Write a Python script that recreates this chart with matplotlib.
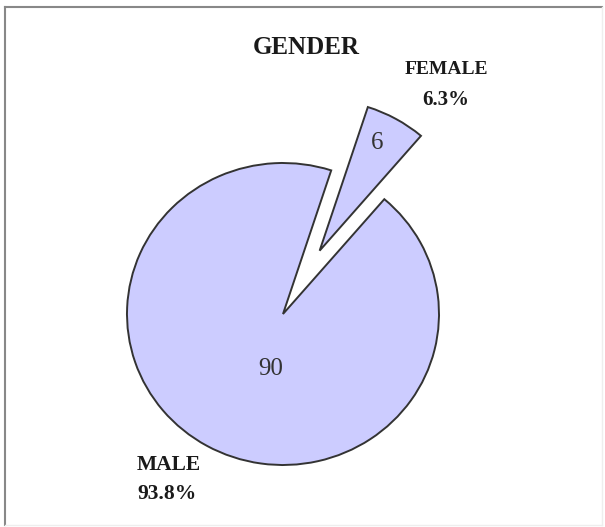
import numpy as np
import matplotlib.pyplot as plt

# data
labels = ['FEMALE', 'MALE']
counts = [6, 90]
pct_text = ['6.3%', '93.8%']

W, H = 605, 527
fig = plt.figure(figsize=(W / 100, H / 100), dpi=100)
ax = fig.add_axes([0, 0, 1, 1])

# the original pie is slightly squashed vertically
rx, ry = 156, 151
k = rx / ry
cx, cy = 283, 314
wedges, _ = ax.pie(counts, center=(cx, (H - cy) * k), radius=rx, startangle=49.5,
                   counterclock=True, explode=[75, 0], colors=['#ccccff', '#ccccff'],
                   wedgeprops=dict(edgecolor='#333333', linewidth=1.4))
ax.set_xlim(0, W)
ax.set_ylim(0, H * k)
ax.set_aspect('auto')
ax.axis('off')

# overlay in pixel coordinates for the texts and the frame
tx = fig.add_axes([0, 0, 1, 1])
tx.set_xlim(0, W)
tx.set_ylim(H, 0)
tx.axis('off')
tx.patch.set_alpha(0)

serif = 'Liberation Serif'
# values inside the slices
tx.text(377, 143, str(counts[0]), ha='center', va='center', fontsize=18,
        family=serif, color='#333333')
tx.text(271, 369, str(counts[1]), ha='center', va='center', fontsize=18,
        family=serif, color='#333333')

# title and category labels
tx.text(306, 47, 'GENDER', ha='center', va='center', fontsize=18,
        family=serif, fontweight='bold', color='#1a1a1a')
tx.text(446, 70, labels[0], ha='center', va='center', fontsize=14,
        family=serif, fontweight='bold', color='#1a1a1a')
tx.text(446, 100, pct_text[0], ha='center', va='center', fontsize=15,
        family=serif, fontweight='bold', color='#1a1a1a')
tx.text(137, 465, labels[1], ha='left', va='center', fontsize=15.5,
        family=serif, fontweight='bold', color='#1a1a1a')
tx.text(137, 494, pct_text[1], ha='left', va='center', fontsize=15.5,
        family=serif, fontweight='bold', color='#1a1a1a')

# frame: darker top/left, faint bottom/right
tx.plot([5, 5], [7, 525], color='#888888', lw=1.5, clip_on=False)
tx.plot([5, 602], [7, 7], color='#888888', lw=1.5, clip_on=False)
tx.plot([602, 602], [7, 525], color='#eeeeee', lw=1, clip_on=False)
tx.plot([5, 602], [525, 525], color='#eeeeee', lw=1, clip_on=False)

fig.savefig('out.png', dpi=100)
